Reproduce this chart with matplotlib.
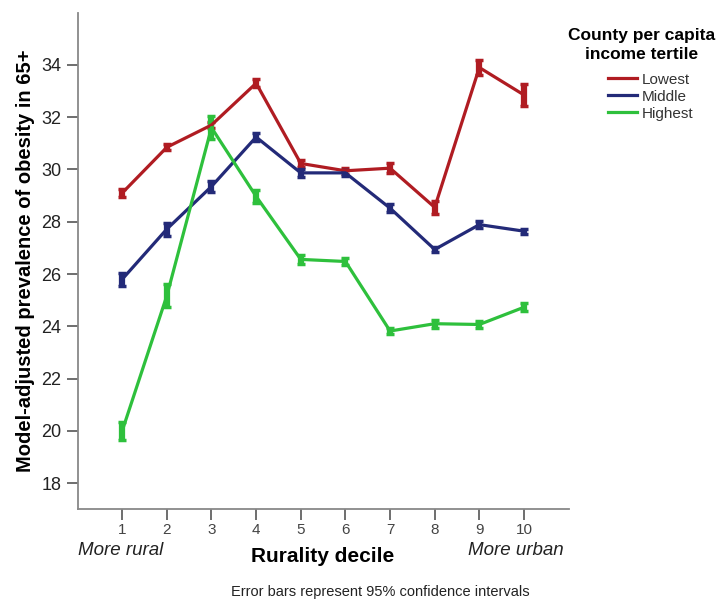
import matplotlib.pyplot as plt

# data
deciles = [1, 2, 3, 4, 5, 6, 7, 8, 9, 10]
lowest = [29.1, 30.85, 31.7, 33.3, 30.23, 29.95, 30.05, 28.55, 33.9, 32.85]
lowest_err = [0.15, 0.12, 0.12, 0.15, 0.12, 0.12, 0.2, 0.25, 0.3, 0.42]
middle = [25.8, 27.72, 29.35, 31.24, 29.87, 29.87, 28.52, 26.94, 27.89, 27.64]
middle_err = [0.25, 0.25, 0.2, 0.15, 0.15, 0.12, 0.15, 0.1, 0.12, 0.1]
highest = [20.0, 25.17, 31.6, 28.97, 26.56, 26.48, 23.82, 24.1, 24.07, 24.73]
highest_err = [0.35, 0.45, 0.45, 0.25, 0.18, 0.15, 0.1, 0.15, 0.12, 0.15]
series_names = ['Lowest', 'Middle', 'Highest']
colors = ['#B01C22', '#232A78', '#2EC03C']
yticks = [18, 20, 22, 24, 26, 28, 30, 32, 34]

plt.rcParams['font.family'] = ['Liberation Sans', 'DejaVu Sans']

fig = plt.figure(figsize=(7.18, 6.02), dpi=100)
ax = fig.add_axes([0.108, 0.154, 0.684, 0.825])

for vals, errs, name, c in zip([lowest, middle, highest],
                               [lowest_err, middle_err, highest_err],
                               series_names, colors):
    ax.errorbar(deciles, vals, yerr=errs, color=c, lw=2.3, elinewidth=4.5,
                capsize=3, capthick=2.5, label=name)

ax.set_xlim(0, 11)
ax.set_ylim(17, 36)
ax.set_xticks(deciles)
ax.set_yticks(yticks)
ax.tick_params(axis='both', length=8, width=1.2, color='#555555',
               labelsize=13, labelcolor='#222222')
ax.tick_params(axis='x', labelsize=11, labelcolor='#444444', pad=2)
for s in ['top', 'right']:
    ax.spines[s].set_visible(False)
for s in ['left', 'bottom']:
    ax.spines[s].set_color('#888888')
    ax.spines[s].set_linewidth(1.3)

ax.set_ylabel('Model-adjusted prevalence of obesity in 65+', fontsize=14.5,
              fontweight='bold', labelpad=5)
fig.text(0.449, 0.075, 'Rurality decile', ha='center', va='center',
         fontsize=15, fontweight='bold')
fig.text(0.108, 0.086, 'More rural', ha='left', va='center',
         fontsize=13.5, style='italic', color='#222222')
fig.text(0.785, 0.086, 'More urban', ha='right', va='center',
         fontsize=13.5, style='italic', color='#222222')
fig.text(0.53, 0.016, 'Error bars represent 95% confidence intervals',
         ha='center', va='center', fontsize=10.5, color='#222222')

# legend title drawn separately so its gap to the entries matches
fig.text(0.894, 1 - 45 / 602, 'County per capita\nincome tertile', ha='center',
         va='center', fontsize=12.5, fontweight='bold', linespacing=1.28)
handles, labels = ax.get_legend_handles_labels()
handles = [h[0] for h in handles]
fig.legend(handles, labels, loc='upper left',
           bbox_to_anchor=(600 / 718, 1 - 65 / 602), borderpad=0,
           frameon=False, fontsize=11, handlelength=1.9, handletextpad=0.35,
           labelspacing=0.2, labelcolor='#333333')

fig.savefig('out.png', dpi=100)
